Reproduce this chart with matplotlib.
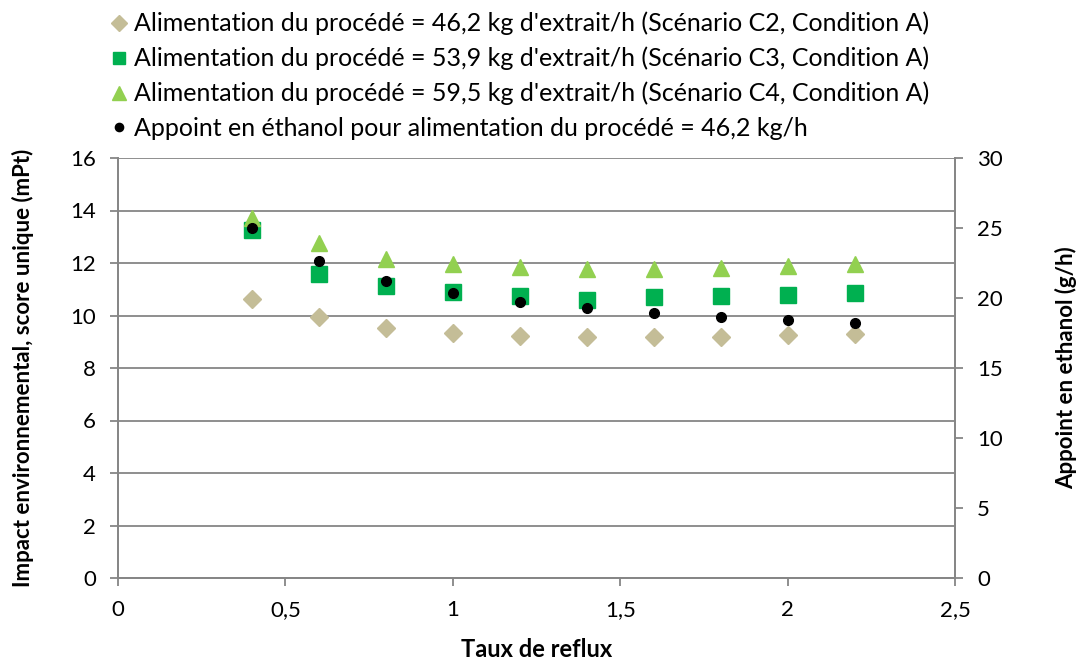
import numpy as np
import matplotlib
matplotlib.use("Agg")
import matplotlib.pyplot as plt

plt.rcParams['font.family'] = ['Lato', 'DejaVu Sans']

# data
reflux = [0.4, 0.6, 0.8, 1.0, 1.2, 1.4, 1.6, 1.8, 2.0, 2.2]
impact_c2 = [10.62, 9.93, 9.54, 9.32, 9.23, 9.17, 9.17, 9.19, 9.25, 9.30]
impact_c3 = [13.26, 11.58, 11.11, 10.88, 10.75, 10.59, 10.72, 10.74, 10.79, 10.87]
impact_c4 = [13.70, 12.75, 12.14, 11.96, 11.83, 11.78, 11.78, 11.82, 11.89, 11.96]
appoint = [24.98, 22.66, 21.24, 20.33, 19.69, 19.26, 18.90, 18.64, 18.43, 18.24]

labels = ["Alimentation du procédé = 46,2 kg d'extrait/h (Scénario C2, Condition A)",
          "Alimentation du procédé = 53,9 kg d'extrait/h (Scénario C3, Condition A)",
          "Alimentation du procédé = 59,5 kg d'extrait/h (Scénario C4, Condition A)",
          "Appoint en éthanol pour alimentation du procédé = 46,2 kg/h"]

grey = "#868686"

fig = plt.figure(figsize=(10.76, 6.62), dpi=100)
ax = fig.add_axes([118/1076, 1-578/662, (955-118)/1076, (578-158)/662])
ax2 = ax.twinx()

h1, = ax.plot(reflux, impact_c2, 'D', color="#C4BD97", ms=9, ls='none', label=labels[0])
h2, = ax.plot(reflux, impact_c3, 's', color="#00B050", ms=11, ls='none', label=labels[1])
h3, = ax.plot(reflux, impact_c4, '^', color="#92D050", ms=12, ls='none', label=labels[2])
h4, = ax2.plot(reflux, appoint, 'o', color="black", ms=7, ls='none', label=labels[3])
ax2.set_zorder(ax.get_zorder()+1)
ax2.patch.set_visible(False)

ax.set_xlim(0, 2.5)
ax.set_ylim(0, 16)
ax2.set_ylim(0, 30)
ax.set_xticks(np.arange(0, 2.51, 0.5))
ax.set_xticklabels(['0', '0,5', '1', '1,5', '2', '2,5'])
ax.set_yticks(np.arange(0, 17, 2))
ax2.set_yticks(np.arange(0, 31, 5))

ax.yaxis.grid(True, color=grey, lw=1.3)
ax.set_axisbelow(True)
for a in (ax, ax2):
    a.spines['top'].set_visible(False)
    for s in ('left', 'right', 'bottom'):
        a.spines[s].set_color(grey)
        a.spines[s].set_linewidth(1.3)
    a.tick_params(colors=grey, labelcolor='black', labelsize=16, length=6, width=1.3, pad=10)

ax.set_xlabel('Taux de reflux', fontsize=17, fontweight='bold')
ax.set_ylabel('Impact environnemental, score unique (mPt)', fontsize=16, fontweight='bold')
ax2.set_ylabel('Appoint en ethanol (g/h)', fontsize=16, fontweight='bold')
ax.xaxis.set_label_coords(0.5, -0.143)
ax.yaxis.set_label_coords(-0.100, 0.5)
ax2.yaxis.set_label_coords(1.119, 0.5)

fig.legend(handles=[h1, h2, h3, h4], loc='upper left', bbox_to_anchor=(96/1076, 1.005),
           frameon=False, fontsize=18, handlelength=0.6, handletextpad=0.3,
           labelspacing=0.46, markerscale=0.85, borderaxespad=0.2)

fig.savefig("out.png", dpi=100)
